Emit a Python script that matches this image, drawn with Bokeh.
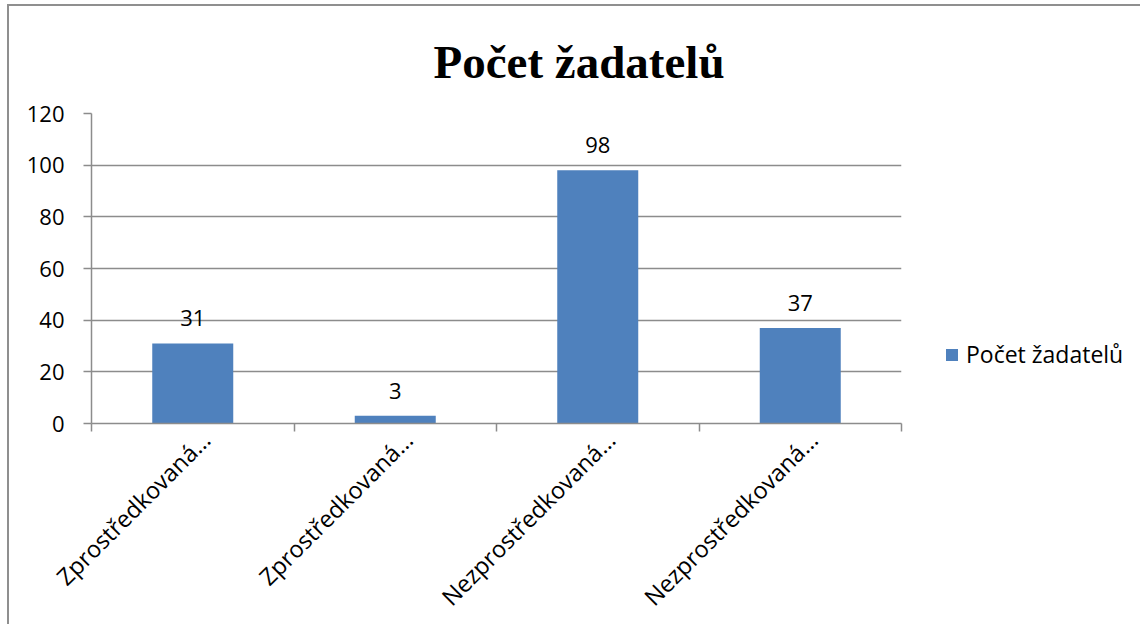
from math import pi
from bokeh.plotting import figure
from bokeh.models import (Range1d, FixedTicker, CustomJSTickFormatter, ColumnDataSource,
                          Legend, LegendItem)
from bokeh.core.properties import value
from bokeh.embed import file_html
from bokeh.resources import INLINE

title_text = "Počet žadatelů"
series_name = "Počet žadatelů"
categories = ["Zprostředkovaná…", "Zprostředkovaná…", "Nezprostředkovaná…", "Nezprostředkovaná…"]
values = [31, 3, 98, 37]
y_ticks = [0, 20, 40, 60, 80, 100, 120]

FONT = "Open Sans"
FS = "22px"
BLUE = "#4F81BD"
GRID = "#8c8c8c"

n = len(categories)
centers = [i + 0.5 for i in range(n)]
source = ColumnDataSource(dict(x=centers, v=values, lbl=[str(v) for v in values]))

p = figure(frame_width=810, frame_height=310, x_range=Range1d(0, n), y_range=Range1d(y_ticks[0], y_ticks[-1]),
           output_backend="svg", toolbar_location=None,
           min_border_left=82, min_border_right=200, min_border_top=107, min_border_bottom=180)
p.styles = {"margin-left": "9px", "margin-top": "6px", "box-shadow": "-2px -2px 0 0 #8f8f8f"}
p.outline_line_color = None
p.background_fill_color = "white"
p.border_fill_color = "white"

# title
p.title.text = title_text
p.title.text_font = "Liberation Serif"
p.title.text_font_style = "bold"
p.title.text_font_size = "47px"
p.title.text_color = "black"
p.title.align = "left"
p.title.offset = 342
p.title.vertical_align = "bottom"
p.title.standoff = 51

# x axis
xa = p.xaxis[0]
xa.ticker = FixedTicker(ticks=[c + 0.065 for c in centers], minor_ticks=list(range(n + 1)))
xa.formatter = CustomJSTickFormatter(args=dict(labels=categories), code="return labels[Math.floor(tick)];")
xa.major_tick_line_color = None
xa.major_tick_out = 0
xa.major_tick_in = 0
xa.minor_tick_out = 8
xa.minor_tick_in = 0
xa.minor_tick_line_color = GRID
xa.minor_tick_line_width = 1.5
xa.axis_line_color = GRID
xa.axis_line_width = 1.5
xa.major_label_orientation = pi / 4
xa.major_label_standoff = 4
xa.major_label_text_font = FONT
xa.major_label_text_font_size = "23.5px"
xa.major_label_text_color = "black"

# y axis
ya = p.yaxis[0]
ya.ticker = FixedTicker(ticks=y_ticks)
ya.minor_tick_line_color = None
ya.major_tick_out = 8
ya.major_tick_in = 0
ya.major_tick_line_color = GRID
ya.major_tick_line_width = 1.5
ya.axis_line_color = GRID
ya.axis_line_width = 1.5
ya.major_label_standoff = 19
ya.major_label_text_font = FONT
ya.major_label_text_font_size = FS
ya.major_label_text_color = "black"

p.xgrid.grid_line_color = None
p.ygrid.grid_line_color = GRID
p.ygrid.grid_line_width = 1.5

r = p.vbar(x="x", top="v", width=0.4, source=source, fill_color=BLUE, line_color=None)

p.text(x="x", y="v", text="lbl", source=source, text_font=value(FONT), text_font_size=FS,
       text_align="center", text_baseline="alphabetic", y_offset=-25, text_color="black")

legend = Legend(items=[LegendItem(label=series_name, renderers=[r])], location=(43, 53),
                padding=0, margin=0, border_line_color=None, background_fill_alpha=0,
                glyph_width=15, glyph_height=15, label_standoff=7,
                label_text_font=FONT, label_text_font_size="23px", label_text_color="black")
p.add_layout(legend, "right")

open("out.html", "w").write(file_html(p, INLINE))
